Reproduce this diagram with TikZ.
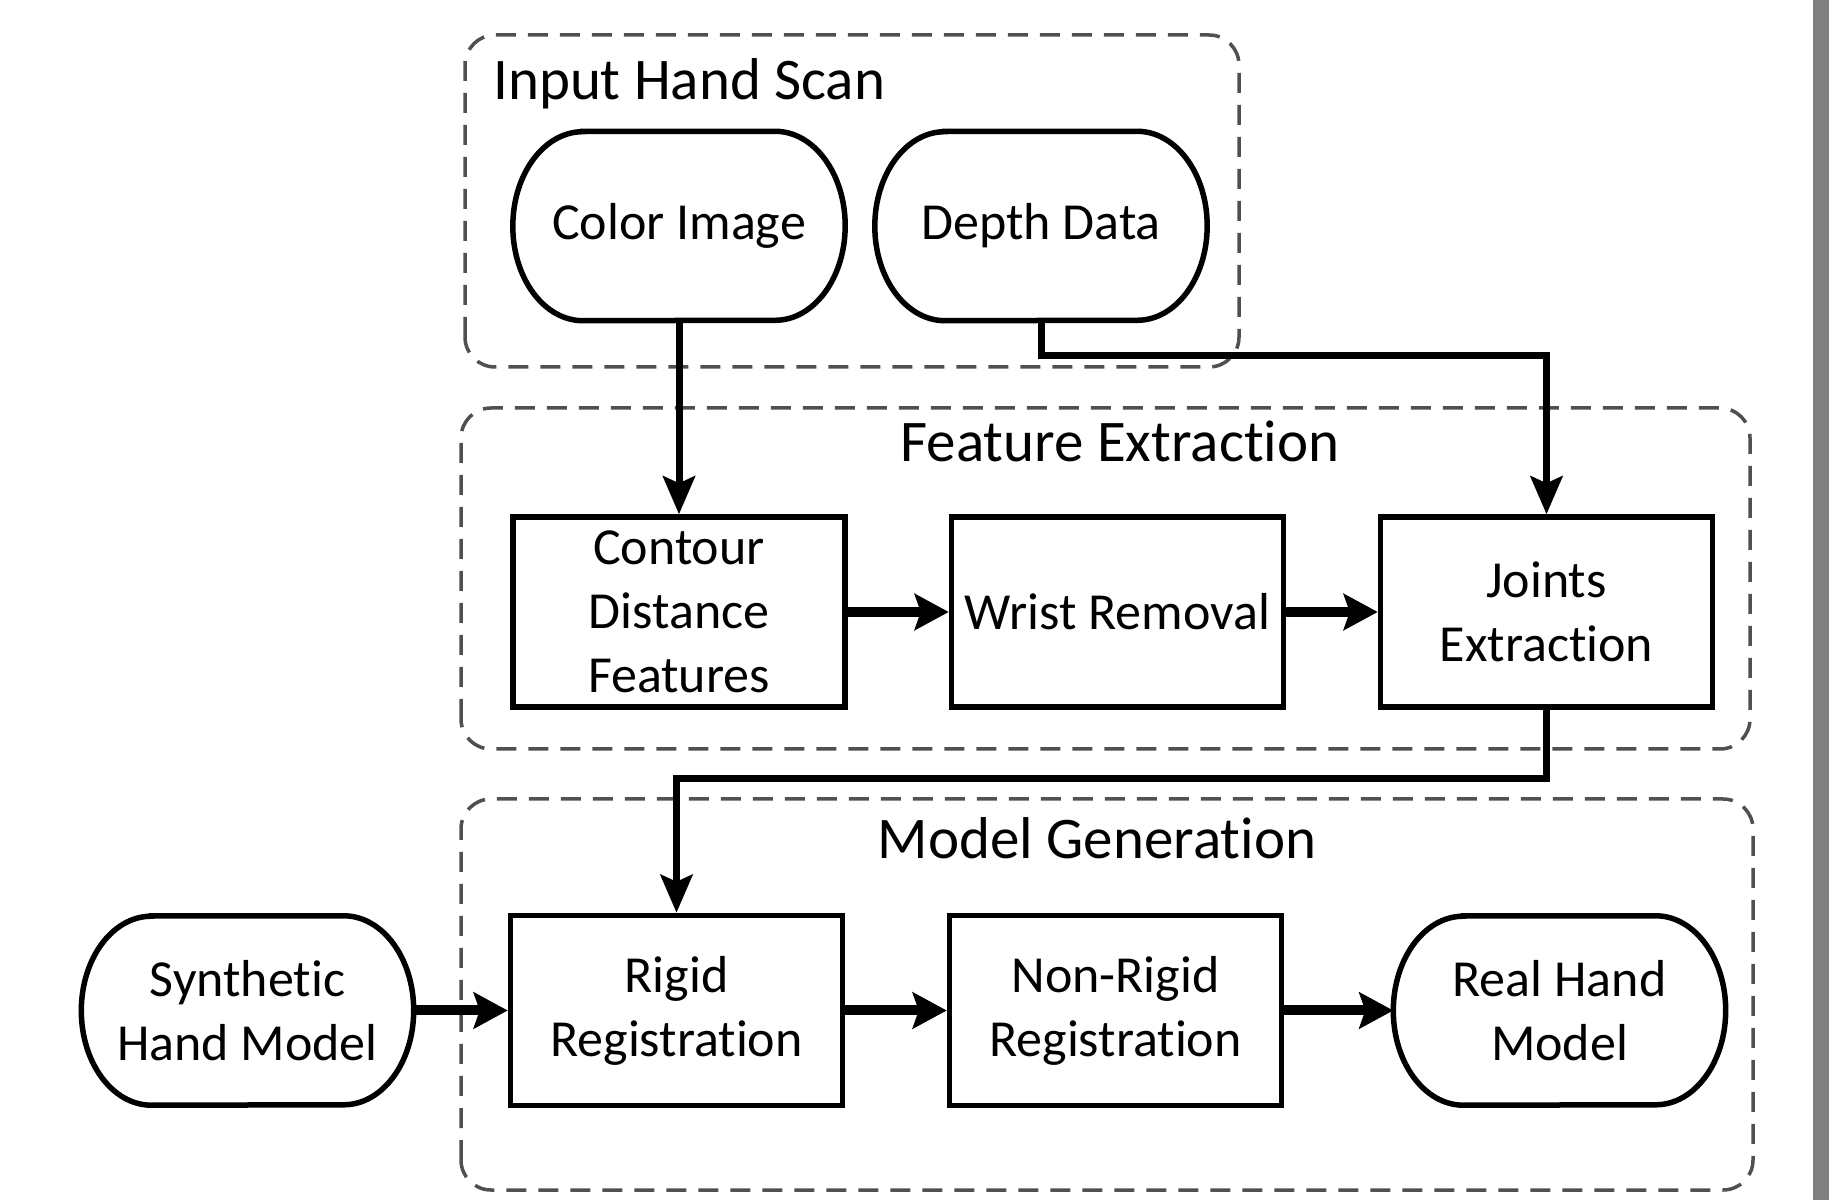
\documentclass[tikz,border=0pt]{standalone}
\usepackage{fontspec}
\setmainfont[Ligatures=NoCommon,RawFeature={-calt;-clig}]{Carlito}
\usetikzlibrary{arrows.meta,calc}
\definecolor{dashgrey}{RGB}{80,80,80}
\begin{document}
\begin{tikzpicture}[x=1pt,y=1pt,
  group/.style={draw=dashgrey,line width=3.5pt,dash pattern=on 20pt off 12pt,rounded corners=30pt},
  grouptitle/.style={inner sep=0pt,font=\fontsize{59}{70}\selectfont},
  procbox/.style={draw,line width=5.5pt,minimum width=332pt,minimum height=190pt,inner sep=0pt,align=center,font=\fontsize{52}{64}\selectfont},
  termtext/.style={minimum width=332pt,minimum height=189pt,inner sep=0pt,align=center,font=\fontsize{52}{64}\selectfont},
  termline/.style={line width=5.5pt},
  conn/.style={line width=7pt,-{Stealth[length=38pt,width=32pt,inset=7pt]}},
  hconn/.style={line width=10pt,-{Stealth[length=34pt,width=36pt,inset=6pt]}}
]
\newcommand{\termbox}[4]{%
  \node[termtext] (#1) at (#2,#3) {#4};
  \draw[termline] ($(#1.north west)+(70,0)$) -- ($(#1.north east)+(-70,0)$)
    arc[start angle=90,end angle=-90,x radius=70pt,y radius=94.5pt]
    -- ($(#1.south west)+(70,0)$)
    arc[start angle=270,end angle=90,x radius=70pt,y radius=94.5pt] -- cycle;}
\fill[white] (0,0) rectangle (1829,1200);
\useasboundingbox (0,0) rectangle (1829,1200);
\fill[gray] (1813,0) rectangle (1829,1200);

% groups
\draw[group] (465,833) rectangle (1239,1165);
\node[grouptitle,anchor=west] (tin) at (493,1116) {Input Hand Scan};
\draw[group] (461,451) rectangle (1750,792);
\node[grouptitle] (tfe) at (1120,759) {Feature Extraction};
\draw[group] (461,10) rectangle (1753,401);
\node[grouptitle] (tmg) at (1097,362) {Model Generation};

% nodes
\termbox{color}{679}{974}{Color Image}
\termbox{depth}{1041}{974}{Depth Data}
\node[procbox] (contour) at (679,588) {Contour\\Distance\\Features};
\node[procbox] (wrist) at (1117.5,588) {Wrist Removal};
\node[procbox] (joints) at (1546.5,588) {Joints\\Extraction};
\termbox{synth}{247.5}{189.5}{Synthetic\\Hand Model}
\node[procbox] (rigid) at (676.5,189.5) {Rigid\\Registration};
\node[procbox] (nonrigid) at (1115.5,189.5) {Non-Rigid\\Registration};
\termbox{real}{1559.5}{189.5}{Real Hand\\Model}

% connectors
\draw[conn] (color.south) -- (contour.north);
\draw[conn] (depth.south) -- ++(0,-35) -| (joints.north);
\draw[hconn] (contour.east) -- (wrist.west);
\draw[hconn] (wrist.east) -- (joints.west);
\draw[conn] (joints.south) -- ++(0,-69) -| (rigid.north);
\draw[hconn] (synth.east) -- (rigid.west);
\draw[hconn] (rigid.east) -- (nonrigid.west);
\draw[hconn] (nonrigid.east) -- (real.west);
\end{tikzpicture}
\end{document}
